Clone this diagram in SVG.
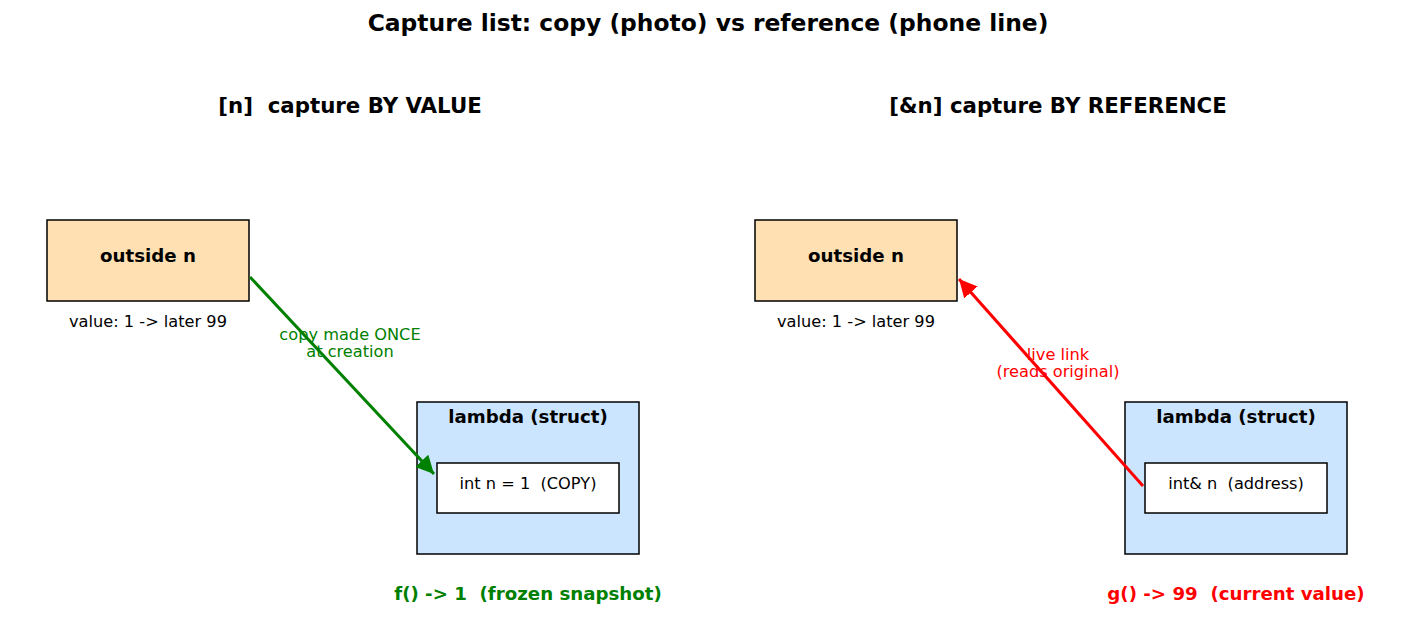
<svg xmlns="http://www.w3.org/2000/svg" width="1407" height="643" viewBox="0 0 1407 643">
<defs>
<style>
text{font-family:"DejaVu Sans","Liberation Sans",sans-serif;text-anchor:middle;white-space:pre}
.title{font-size:23.4px;font-weight:bold}
.sub{font-size:21.3px;font-weight:bold}
.b{font-size:18.2px;font-weight:bold}
.n{font-size:16.2px}
.outside{fill:#ffe0b2;stroke:#000;stroke-width:1.5}
.lambda{fill:#cce5ff;stroke:#000;stroke-width:1.5}
.inner{fill:#fff;stroke:#000;stroke-width:1.5}
.g{fill:#008000}
.r{fill:#ff0000}
</style>
<marker id="ag" viewBox="0 0 10 10" refX="10" refY="5" markerWidth="6" markerHeight="6" markerUnits="strokeWidth" orient="auto"><path d="M0,0 L10,5 L0,10 z" fill="#008000"/></marker>
<marker id="ar" viewBox="0 0 10 10" refX="10" refY="5" markerWidth="6" markerHeight="6" markerUnits="strokeWidth" orient="auto"><path d="M0,0 L10,5 L0,10 z" fill="#ff0000"/></marker>
</defs>
<rect width="1407" height="643" fill="#fff"/>
<text class="title" x="708" y="31" xml:space="preserve">Capture list: copy (photo) vs reference (phone line)</text>
<text class="sub" x="350" y="113" xml:space="preserve">[n]  capture BY VALUE</text>
<text class="sub" x="1058" y="113" xml:space="preserve">[&amp;n] capture BY REFERENCE</text>

<g id="left-outside">
<rect class="outside" x="47" y="220" width="202" height="81"/>
<text class="b" x="148" y="262">outside n</text>
<text class="n" x="148" y="327">value: 1 -&gt; later 99</text>
</g>
<g id="left-lambda">
<rect class="lambda" x="417" y="402" width="222" height="152"/>
<text class="b" x="528" y="423">lambda (struct)</text>
<rect class="inner" x="437" y="463" width="182" height="50"/>
<text class="n" x="528" y="489" xml:space="preserve">int n = 1  (COPY)</text>
</g>
<g id="right-outside">
<rect class="outside" x="755" y="220" width="202" height="81"/>
<text class="b" x="856" y="262">outside n</text>
<text class="n" x="856" y="327">value: 1 -&gt; later 99</text>
</g>
<g id="right-lambda">
<rect class="lambda" x="1125" y="402" width="222" height="152"/>
<text class="b" x="1236" y="423">lambda (struct)</text>
<rect class="inner" x="1145" y="463" width="182" height="50"/>
<text class="n" x="1236" y="489" xml:space="preserve">int&amp; n  (address)</text>
</g>

<g id="connectors">
<line x1="250" y1="277" x2="434" y2="474" stroke="#008000" stroke-width="3" marker-end="url(#ag)"/>
<line x1="1143" y1="486" x2="959" y2="279" stroke="#ff0000" stroke-width="3" marker-end="url(#ar)"/>
<text class="n g" x="350" y="340">copy made ONCE</text>
<text class="n g" x="350" y="357">at creation</text>
<text class="n r" x="1058" y="360">live link</text>
<text class="n r" x="1058" y="377">(reads original)</text>
</g>

<text class="b g" x="528" y="600" xml:space="preserve">f() -&gt; 1  (frozen snapshot)</text>
<text class="b r" x="1236" y="600" xml:space="preserve">g() -&gt; 99  (current value)</text>
</svg>
